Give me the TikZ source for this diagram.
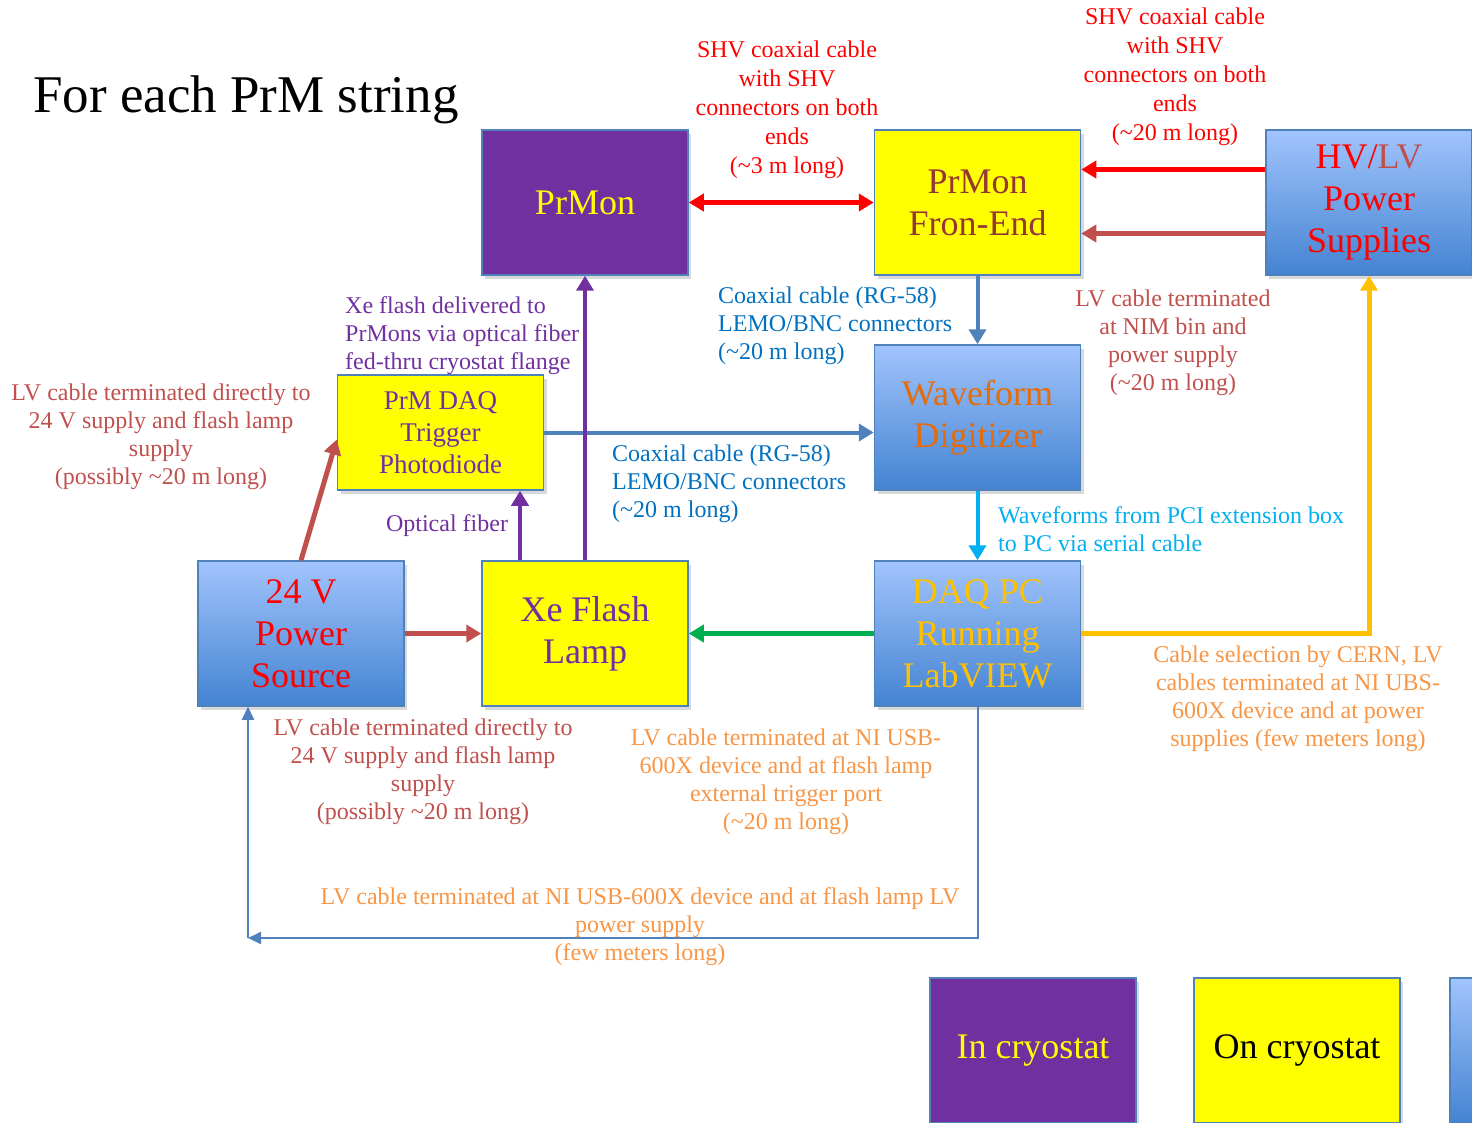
\documentclass[tikz,border=0pt]{standalone}
\usepackage{fontspec}
\setmainfont{Liberation Serif}
\usetikzlibrary{arrows.meta,shadows,calc}

\definecolor{shvred}{HTML}{FF0000}
\definecolor{lvred}{HTML}{C0504D}
\definecolor{prmpurple}{HTML}{7030A0}
\definecolor{prmyellow}{HTML}{FFFF00}
\definecolor{steel}{HTML}{4F81BD}
\definecolor{coaxblue}{HTML}{0070C0}
\definecolor{wfcyan}{HTML}{00B0F0}
\definecolor{usborange}{HTML}{F79646}
\definecolor{gold}{HTML}{FFC000}
\definecolor{grn}{HTML}{00B050}
\definecolor{fetext}{HTML}{953735}
\definecolor{wftext}{HTML}{E46C0A}
\definecolor{boxtop}{HTML}{A1C4FC}
\definecolor{boxbot}{HTML}{4483D2}

\begin{document}
\begin{tikzpicture}[x=1pt,y=-1pt,
  >={Triangle[length=15pt,width=17pt]},
  box/.style={draw=steel,line width=1.5pt,minimum width=206pt,minimum height=145pt,
    inner sep=0pt,align=center,font=\fontsize{36}{42}\selectfont,
    drop shadow={shadow xshift=3pt,shadow yshift=-4pt,opacity=.3}},
  bluebox/.style={box,top color=boxtop,bottom color=boxbot},
  lbl/.style={inner sep=0pt,align=center,font=\fontsize{24}{28}\selectfont},
  cable/.style={->,line width=5pt},
  coax/.style={->,draw=steel,line width=4pt},
  fiber/.style={->,draw=prmpurple,line width=4.5pt}]
\useasboundingbox (0,0) rectangle (1472,1123);

\node[anchor=west,inner sep=0pt,font=\fontsize{53}{60}\selectfont] (title) at (33,100) {For each PrM string};

\node[box,fill=prmpurple,text=prmyellow] (prmon) at (585,202.5) {PrMon};
\node[box,fill=prmyellow,text=fetext] (fe) at (977.5,202.5) {PrMon\\Fron-End};
\node[bluebox,text=shvred] (hvlv) at (1369,202.5) {HV/\textcolor{lvred}{LV}\\Power\\Supplies};
\node[bluebox,text=wftext] (wfd) at (977.5,417.5) {Waveform\\Digitizer};
\node[box,fill=prmyellow,text=prmpurple,minimum height=115pt,font=\fontsize{27}{32}\selectfont] (trig) at (440.5,432.5) {PrM DAQ\\Trigger\\Photodiode};
\node[bluebox,text=shvred] (psu) at (301,633.5) {24 V\\Power\\Source};
\node[box,fill=prmyellow,text=prmpurple] (xe) at (585,633.5) {Xe Flash\\Lamp};
\node[bluebox,text=gold] (daq) at (977.5,633.5) {DAQ PC\\Running\\LabVIEW};

\node[box,fill=prmpurple,text=prmyellow] (incryo) at (1033,1050.5) {In cryostat};
\node[box,fill=prmyellow] (oncryo) at (1297,1050.5) {On cryostat};
\node[bluebox] (offcryo) at (1553,1050.5) {};

\draw[cable,<->,draw=shvred] (prmon) -- (fe);
\draw[cable,draw=shvred] ([yshift=33pt]hvlv.west) -- ([yshift=33pt]fe.east);
\draw[cable,draw=lvred] ([yshift=-31pt]hvlv.west) -- ([yshift=-31pt]fe.east);
\draw[coax] (fe) -- (wfd);
\draw[coax] (trig.east) -- (trig.east -| wfd.west);
\draw[coax,draw=wfcyan] (wfd) -- (daq);
\draw[cable,draw=gold] (daq.east) -| (hvlv.south);
\draw[cable,draw=grn] (daq) -- (xe);
\draw[cable,draw=lvred] (psu) -- (xe);
\draw[cable,draw=lvred] (psu.north) -- ([yshift=-7pt]trig.west);
\draw[fiber] (xe) -- (prmon);
\draw[fiber] ([xshift=-65pt]xe.north) -- ([xshift=-65pt]xe.north |- trig.south);
\coordinate (bend) at (248,938);
\draw[->,draw=steel,line width=2pt,>={Triangle[length=13pt,width=12pt]}] (daq.south) |- (bend);
\draw[->,draw=steel,line width=2pt,>={Triangle[length=13pt,width=12pt]}] (bend) -- (bend |- psu.south);

\node[lbl,text=shvred,font=\fontsize{24}{29}\selectfont] (shva) at (787,110) {SHV coaxial cable\\with SHV\\connectors on both\\ends\\(\textasciitilde3 m long)};
\node[lbl,text=shvred,font=\fontsize{24}{29}\selectfont] (shvb) at (1175,77) {SHV coaxial cable\\with SHV\\connectors on both\\ends\\(\textasciitilde20 m long)};
\node[lbl,text=coaxblue,anchor=west,align=left] (coaxa) at (718,326) {Coaxial cable (RG-58)\\LEMO/BNC connectors\\(\textasciitilde20 m long)};
\node[lbl,text=lvred] (lvnim) at (1173,343) {LV cable terminated\\at NIM bin and\\power supply\\(\textasciitilde20 m long)};
\node[lbl,text=prmpurple,anchor=west,align=left] (xelbl) at (345,336) {Xe flash delivered to\\PrMons via optical fiber\\fed-thru cryostat flange};
\node[lbl,text=lvred] (lvdira) at (161,437) {LV cable terminated directly to\\24 V supply and flash lamp\\supply\\(possibly \textasciitilde20 m long)};
\node[lbl,text=prmpurple] (fiberlbl) at (447,526) {Optical fiber};
\node[lbl,text=coaxblue,anchor=west,align=left] (coaxb) at (612,484) {Coaxial cable (RG-58)\\LEMO/BNC connectors\\(\textasciitilde20 m long)};
\node[lbl,text=wfcyan,anchor=west,align=left] (wflbl) at (998,529) {Waveforms from PCI extension box\\to PC via serial cable};
\node[lbl,text=lvred] (lvdirb) at (423,772) {LV cable terminated directly to\\24 V supply and flash lamp\\supply\\(possibly \textasciitilde20 m long)};
\node[lbl,text=usborange] (lvusb) at (786,782) {LV cable terminated at NI USB-\\600X device and at flash lamp\\external trigger port\\(\textasciitilde20 m long)};
\node[lbl,text=usborange] (cern) at (1298,699) {Cable selection by CERN, LV\\cables terminated at NI UBS-\\600X device and at power\\supplies (few meters long)};
\node[lbl,text=usborange] (lvfew) at (640,927) {LV cable terminated at NI USB-600X device and at flash lamp LV\\power supply\\(few meters long)};
\end{tikzpicture}
\end{document}
